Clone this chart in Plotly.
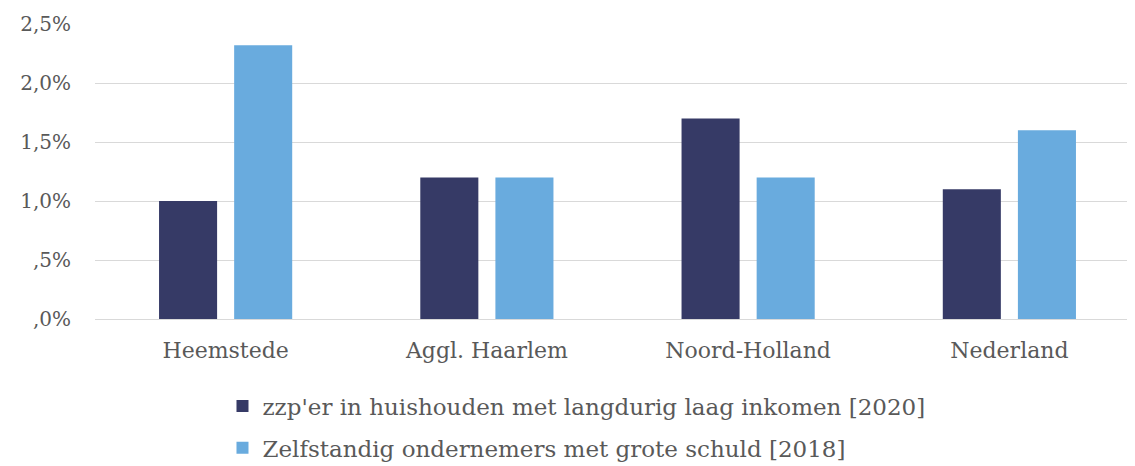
import plotly.graph_objects as go

categories = ["Heemstede", "Aggl. Haarlem", "Noord-Holland", "Nederland"]
series1_name = "zzp'er in huishouden met langdurig laag inkomen [2020]"
series1 = [1.0, 1.2, 1.7, 1.1]
series2_name = "Zelfstandig ondernemers met grote schuld [2018]"
series2 = [2.32, 1.2, 1.2, 1.6]
tick_vals = [0, 0.5, 1.0, 1.5, 2.0, 2.5]
tick_text = [",0%", ",5%", "1,0%", "1,5%", "2,0%", "2,5%"]

font_family = "DejaVu Serif, Liberation Serif, serif"
grey = "#595959"

fig = go.Figure()
fig.add_trace(go.Bar(x=categories, y=series1, name=series1_name,
                     marker=dict(color="#363A66", line=dict(width=0)),
                     legendgroup="a"))
fig.add_trace(go.Bar(x=categories, y=series2, name=series2_name,
                     marker=dict(color="#69ABDE", line=dict(width=0)),
                     legendgroup="b"))

fig.update_layout(
    width=1132, height=458,
    margin=dict(l=87, r=0, t=16, b=147, autoexpand=False),
    paper_bgcolor="white", plot_bgcolor="white",
    barmode="group", bargap=0.425, bargroupgap=0.227,
    font=dict(family=font_family, color=grey, size=20),
    xaxis=dict(showline=False, ticks="", tickfont=dict(size=22, color=grey),
               ticklabelstandoff=16),
    yaxis=dict(range=[0, 2.5], tickvals=tick_vals, ticktext=tick_text,
               showgrid=True, gridcolor="#d9d9d9", gridwidth=1,
               zeroline=True, zerolinecolor="#d9d9d9", zerolinewidth=1,
               tickfont=dict(size=20, color=grey), ticks="", ticklabelstandoff=23),
    legend=dict(orientation="v", x=0.122, xanchor="left", y=-0.222, yanchor="top",
                font=dict(size=23, color=grey), tracegroupgap=9,
                itemwidth=30, bgcolor="rgba(0,0,0,0)"),
    showlegend=True,
)
fig.write_html(
    "out.html",
    post_script="document.documentElement.style.overflow='hidden';document.body.style.overflow='hidden';",
)
